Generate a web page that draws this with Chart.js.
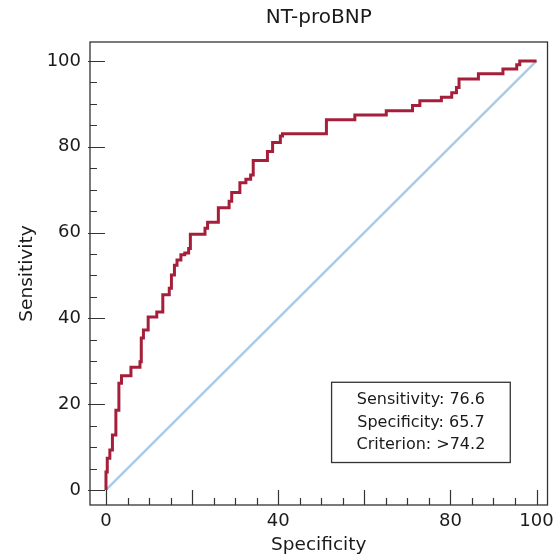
<!DOCTYPE html>
<html>
<head>
<meta charset="utf-8">
<script src="https://cdn.jsdelivr.net/npm/chart.js@4"></script>
<style>
  html, body { margin: 0; padding: 0; background: #ffffff; }
  #wrap { width: 560px; height: 560px; position: relative; }
</style>
</head>
<body>
<div id="wrap"><canvas id="c" width="560" height="560"></canvas></div>
<script>
// ---- data ----
const chartTitle = 'NT-proBNP';
const xTitle = 'Specificity';
const yTitle = 'Sensitivity';

// ROC curve vertices (x = where the step rises, y = top of that rise)
const rocX = [0, 0, 0.3, 0.9, 1.5, 2.3, 3.0, 3.6, 5.8, 7.9, 8.2, 8.7, 9.8, 11.8, 13.2, 14.7, 15.2, 15.9, 16.5, 17.4, 18.3, 19.2, 19.6,
              23.0, 23.6, 26.1, 28.6, 29.2, 31.1, 32.5, 33.6, 34.2, 37.5, 38.7, 40.5, 41.0, 51.2, 57.8, 65.1, 71.2, 72.9, 77.9,
              80.3, 81.4, 82.0, 86.5, 92.2, 95.4, 96.1, 100];
const rocY = [0, 4.2, 7.4, 9.3, 12.8, 18.6, 24.9, 26.6, 28.6, 29.9, 35.4, 37.3, 40.3, 41.5, 45.5, 47.0, 50.1, 52.4, 53.6, 54.8, 55.2, 56.3, 59.6,
              61.0, 62.4, 65.8, 67.3, 69.3, 71.6, 72.4, 73.4, 76.8, 78.9, 81.0, 82.5, 83.0, 86.3, 87.4, 88.4, 89.6, 90.7, 91.5,
              92.6, 93.8, 95.8, 97.0, 98.1, 99.1, 100, 100];

// reference diagonal
const diagX = [0, 100];
const diagY = [0, 100];

// axis ticks
const xTickValues = [0,5,10,15,20,25,30,35,40,45,50,55,60,65,70,75,80,85,90,95,100];
const xTickLabels = [0, 40, 80, 100];
const yTickValues = [0,5,10,15,20,25,30,35,40,45,50,55,60,65,70,75,80,85,90,95,100];
const yTickLabels = [0, 20, 40, 60, 80, 100];

// annotation box text
const boxLines = ['Sensitivity: 76.6', 'Specificity: 65.7', 'Criterion: >74.2'];

// ---- styling / layout ----
const FONT = "'DejaVu Sans', 'Liberation Sans', Arial, sans-serif";
const TEXT = '#1a1a1a';
const AXIS = '#333333';
const boxRange = { x0: 52.4, x1: 93.9, yTop: 25.1, yBottom: 6.4 };

const toPts = (xs, ys) => xs.map((x, i) => ({ x: x, y: ys[i] }));

const framePlugin = {
  id: 'frame',
  afterDraw(chart) {
    const { ctx, chartArea: a, scales: { x, y } } = chart;
    ctx.save();
    // frame
    ctx.strokeStyle = AXIS;
    ctx.lineWidth = 1.3;
    ctx.strokeRect(a.left, a.top, a.right - a.left, a.bottom - a.top);
    // tick marks (inward)
    ctx.lineWidth = 1.2;
    ctx.beginPath();
    y.ticks.forEach(t => {
      const py = Math.round(y.getPixelForValue(t.value)) + 0.5;
      const major = t.value % 20 === 0;
      ctx.moveTo(a.left - (major ? 2 : 0), py);
      ctx.lineTo(a.left + (major ? 15 : 7), py);
    });
    x.ticks.forEach(t => {
      const px = Math.round(x.getPixelForValue(t.value)) + 0.5;
      const major = t.value % 20 === 0;
      ctx.moveTo(px, a.bottom);
      ctx.lineTo(px, a.bottom - (major ? 15 : 7));
    });
    ctx.stroke();
    // title
    ctx.fillStyle = TEXT;
    ctx.font = '20px ' + FONT;
    ctx.textAlign = 'center';
    ctx.textBaseline = 'middle';
    ctx.fillText(chartTitle, (a.left + a.right) / 2, 18);
    // annotation box
    const bx0 = x.getPixelForValue(boxRange.x0), bx1 = x.getPixelForValue(boxRange.x1);
    const by0 = y.getPixelForValue(boxRange.yTop), by1 = y.getPixelForValue(boxRange.yBottom);
    ctx.fillStyle = '#ffffff';
    ctx.fillRect(bx0, by0, bx1 - bx0, by1 - by0);
    ctx.strokeStyle = AXIS;
    ctx.lineWidth = 1.3;
    ctx.strokeRect(bx0, by0, bx1 - bx0, by1 - by0);
    ctx.fillStyle = TEXT;
    ctx.font = '16px ' + FONT;
    boxLines.forEach((s, i) => ctx.fillText(s, (bx0 + bx1) / 2, by0 + 18 + i * 22.5));
    ctx.restore();
  }
};

new Chart(document.getElementById('c'), {
  type: 'scatter',
  data: {
    datasets: [
      {
        label: 'ROC',
        data: toPts(rocX, rocY),
        showLine: true,
        stepped: 'before',
        borderColor: '#a51f3b',
        borderWidth: 3,
        pointRadius: 0,
        fill: false
      },
      {
        label: 'Reference',
        data: toPts(diagX, diagY),
        showLine: true,
        borderColor: '#a9cbe9',
        borderWidth: 2.5,
        pointRadius: 0,
        fill: false
      }
    ]
  },
  options: {
    responsive: false,
    animation: false,
    devicePixelRatio: 1,
    layout: { padding: { top: 42, right: 12, left: 0, bottom: 0 } },
    plugins: { legend: { display: false }, tooltip: { enabled: false }, title: { display: false } },
    scales: {
      x: {
        type: 'linear',
        min: -3.71,
        max: 102.55,
        afterBuildTicks: s => { s.ticks = xTickValues.map(v => ({ value: v })); },
        afterFit: s => { s.height = 55; },
        grid: { display: false, drawTicks: false },
        border: { display: false },
        ticks: {
          autoSkip: false,
          maxRotation: 0,
          padding: 6,
          color: TEXT,
          font: { family: FONT, size: 18 },
          callback: v => (xTickLabels.includes(v) ? String(v) : '')
        },
        title: {
          display: true,
          text: xTitle,
          color: TEXT,
          font: { family: FONT, size: 18.5 },
          padding: { top: 0, bottom: 4 }
        }
      },
      y: {
        type: 'linear',
        min: -3.5,
        max: 104.4,
        afterBuildTicks: s => { s.ticks = yTickValues.map(v => ({ value: v })); },
        afterFit: s => { s.width = 90; },
        grid: { display: false, drawTicks: false },
        border: { display: false },
        ticks: {
          autoSkip: false,
          padding: 9,
          color: TEXT,
          font: { family: FONT, size: 18 },
          callback: v => (yTickLabels.includes(v) ? String(v) : '')
        },
        title: {
          display: true,
          text: yTitle,
          color: TEXT,
          font: { family: FONT, size: 18.5 },
          padding: { top: 16, bottom: 0 }
        }
      }
    }
  },
  plugins: [framePlugin]
});
</script>
</body>
</html>
